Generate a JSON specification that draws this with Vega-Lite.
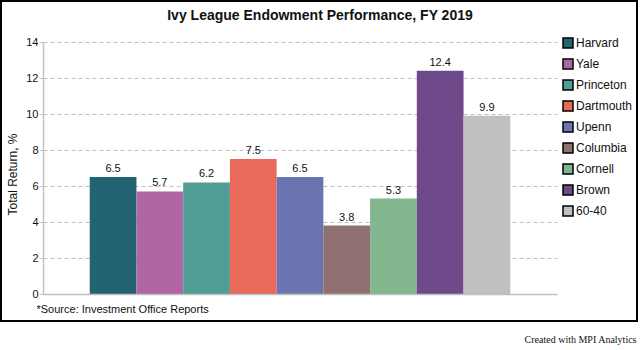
{
  "$schema": "https://vega.github.io/schema/vega-lite/v6.json",
  "autosize": "none",
  "width": 514,
  "height": 252,
  "padding": {"left": 43, "top": 42, "right": 84, "bottom": 56},
  "background": "white",
  "title": {
    "text": "Ivy League Endowment Performance, FY 2019",
    "anchor": "middle",
    "dx": 20,
    "offset": -23,
    "font": "Liberation Sans",
    "fontSize": 14,
    "fontWeight": "bold",
    "color": "#111111"
  },
  "data": {
    "values": [
      {"school": "Harvard", "ret": 6.5},
      {"school": "Yale", "ret": 5.7},
      {"school": "Princeton", "ret": 6.2},
      {"school": "Dartmouth", "ret": 7.5},
      {"school": "Upenn", "ret": 6.5},
      {"school": "Columbia", "ret": 3.8},
      {"school": "Cornell", "ret": 5.3},
      {"school": "Brown", "ret": 12.4},
      {"school": "60-40", "ret": 9.9}
    ]
  },
  "config": {
    "view": {"stroke": null},
    "font": "Liberation Sans"
  },
  "resolve": {"axis": {"y": "independent"}},
  "layer": [
    {
      "mark": {"type": "rect"},
      "encoding": {
        "x": {
          "field": "school",
          "type": "nominal",
          "sort": null,
          "scale": {"paddingInner": 0, "paddingOuter": 1.1},
          "axis": {
            "title": "*Source: Investment Office Reports",
            "titleFont": "Liberation Sans",
            "titleFontSize": 11,
            "titleFontWeight": "normal",
            "titleColor": "#111111",
            "titleAnchor": "start",
            "titleAlign": "left",
            "titleBaseline": "middle",
            "titleX": -7,
            "titleY": 15,
            "labels": false,
            "ticks": false,
            "domainColor": "#c0c0c0",
            "domainWidth": 1.5
          }
        },
        "y": {
          "field": "ret",
          "type": "quantitative",
          "scale": {"domain": [0, 14], "nice": false},
          "axis": {
            "title": "Total Return, %",
            "titleFont": "Liberation Sans",
            "titleFontSize": 12,
            "titleFontWeight": "normal",
            "titleColor": "#111111",
            "titleAngle": -90,
            "titleBaseline": "middle",
            "titleAlign": "center",
            "titleX": -31,
            "titleY": 132,
            "values": [0, 2, 4, 6, 8, 10, 12, 14],
            "labelFontSize": 11,
            "labelColor": "#111111",
            "labelPadding": 1,
            "tickSize": 4,
            "tickColor": "#c0c0c0",
            "domainColor": "#c0c0c0",
            "domainWidth": 1.5,
            "grid": true,
            "gridColor": "#c0c0c0",
            "gridDash": [4, 3],
            "gridWidth": 1
          }
        },
        "color": {
          "field": "school",
          "type": "nominal",
          "sort": null,
          "scale": {
            "domain": ["Harvard", "Yale", "Princeton", "Dartmouth", "Upenn", "Columbia", "Cornell", "Brown", "60-40"],
            "range": ["#226372", "#b065a4", "#519e96", "#e9695a", "#6b74b0", "#8f7070", "#83b58e", "#6e4a8a", "#c0c0c0"]
          },
          "legend": {
            "title": null,
            "orient": "none",
            "legendX": 519,
            "legendY": -5,
            "padding": 0,
            "symbolType": "square",
            "symbolSize": 100,
            "symbolStrokeColor": "black",
            "symbolStrokeWidth": 1.5,
            "symbolOpacity": 1,
            "labelFont": "Liberation Sans",
            "labelFontSize": 12,
            "labelColor": "#111111",
            "labelOffset": 2,
            "rowPadding": 5
          }
        }
      }
    },
    {
      "mark": {"type": "text", "baseline": "bottom", "dy": -3, "fontSize": 11, "color": "#111111"},
      "encoding": {
        "x": {"field": "school", "type": "nominal", "sort": null},
        "y": {
          "field": "ret",
          "type": "quantitative",
          "axis": {
            "orient": "right",
            "labels": false,
            "ticks": false,
            "domain": false,
            "grid": false,
            "title": "Created with MPI Analytics",
            "titleFont": "Liberation Serif",
            "titleFontSize": 10,
            "titleFontWeight": "normal",
            "titleColor": "#111111",
            "titleAngle": 0,
            "titleAlign": "right",
            "titleBaseline": "middle",
            "titleX": 79,
            "titleY": 297
          }
        },
        "text": {"field": "ret", "type": "quantitative", "format": ".1f"}
      }
    },
    {
      "data": {"values": [{"frame": 1}]},
      "mark": {"type": "rect", "fill": null, "stroke": "black", "strokeWidth": 2},
      "encoding": {
        "x": {"value": -42},
        "x2": {"value": 594},
        "y": {"value": -41},
        "y2": {"value": 279}
      }
    }
  ]
}
